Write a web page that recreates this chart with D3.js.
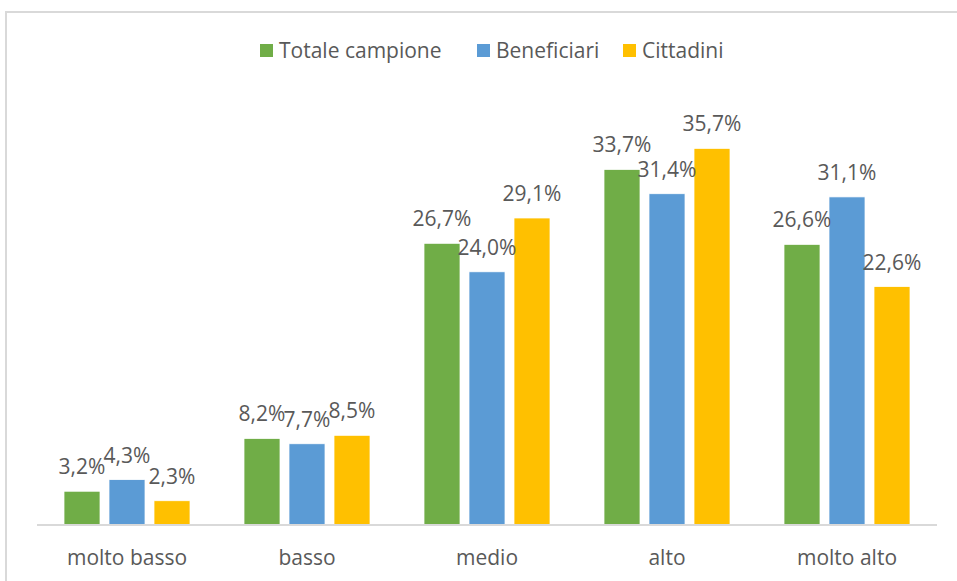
<!DOCTYPE html>
<html>
<head>
<meta charset="utf-8">
<script src="https://cdn.jsdelivr.net/npm/d3@7/dist/d3.min.js"></script>
<style>
  html, body { margin: 0; padding: 0; background: #fff; }
  svg { display: block; }
</style>
</head>
<body>
<svg id="chart" width="957" height="581"></svg>
<script>
const categories = ["molto basso", "basso", "medio", "alto", "molto alto"];
const seriesNames = ["Totale campione", "Beneficiari", "Cittadini"];
const totaleCampione = [3.2, 8.2, 26.7, 33.7, 26.6];
const beneficiari = [4.3, 7.7, 24.0, 31.4, 31.1];
const cittadini = [2.3, 8.5, 29.1, 35.7, 22.6];
const seriesColors = ["#70AD47", "#5B9BD5", "#FFC000"];

const seriesValues = [totaleCampione, beneficiari, cittadini];
const FONT = "'Open Sans', 'Noto Sans', sans-serif";
const TEXT = "#595959";
const FS = 21;

const svg = d3.select("#chart");

// chart frame
svg.append("rect")
  .attr("x", 6).attr("y", 12)
  .attr("width", 1000).attr("height", 1000)
  .attr("fill", "#fff")
  .attr("stroke", "#d9d9d9").attr("stroke-width", 2);

const plot = { left: 37, right: 937, top: 103, bottom: 525 };

const x0 = d3.scaleBand().domain(categories)
  .range([plot.left, plot.right]).paddingInner(0.3).paddingOuter(0.15);
const x1 = d3.scaleBand().domain(seriesNames)
  .range([0, x0.bandwidth()]).paddingInner(0.2);
const y = d3.scaleLinear().domain([0, 40]).range([plot.bottom, plot.top]);

const itLocale = d3.formatLocale({ decimal: ",", thousands: ".", grouping: [3], currency: ["", "€"] });
const fmt = itLocale.format(".1f");

const rows = [];
categories.forEach((c, i) => {
  seriesNames.forEach((s, j) => {
    rows.push({ cat: c, series: s, value: seriesValues[j][i], color: seriesColors[j] });
  });
});

const g = svg.append("g");

g.selectAll("rect.bar").data(rows).join("rect")
  .attr("class", "bar")
  .attr("x", d => x0(d.cat) + x1(d.series))
  .attr("y", d => y(d.value))
  .attr("width", x1.bandwidth())
  .attr("height", d => y(0) - y(d.value))
  .attr("fill", d => d.color)
  .attr("stroke", "#fff").attr("stroke-width", 0.75);

g.selectAll("text.lbl").data(rows).join("text")
  .attr("class", "lbl")
  .attr("x", d => x0(d.cat) + x1(d.series) + x1.bandwidth() / 2)
  .attr("y", d => y(d.value) - 17)
  .attr("text-anchor", "middle")
  .attr("font-family", FONT).attr("font-size", FS)
  .attr("fill", TEXT)
  .text(d => fmt(d.value) + "%");

// x axis
const xAxis = d3.axisBottom(x0).tickSize(0).tickPadding(0);
const axG = svg.append("g").attr("transform", `translate(0,${plot.bottom})`).call(xAxis);
axG.select(".domain").attr("stroke", "#d9d9d9").attr("stroke-width", 2)
  .attr("d", `M${plot.left},0H${plot.right}`);
axG.selectAll(".tick text")
  .attr("y", 40)
  .attr("dy", null)
  .attr("font-family", FONT).attr("font-size", FS)
  .attr("fill", TEXT);

// legend
const legendX = [260, 477, 623];
const lg = svg.append("g");
seriesNames.forEach((s, j) => {
  lg.append("rect").attr("x", legendX[j]).attr("y", 44)
    .attr("width", 13).attr("height", 13).attr("fill", seriesColors[j]);
  lg.append("text").attr("x", legendX[j] + 19).attr("y", 58)
    .attr("font-family", FONT).attr("font-size", FS)
    .attr("fill", TEXT).text(s);
});
</script>
</body>
</html>
